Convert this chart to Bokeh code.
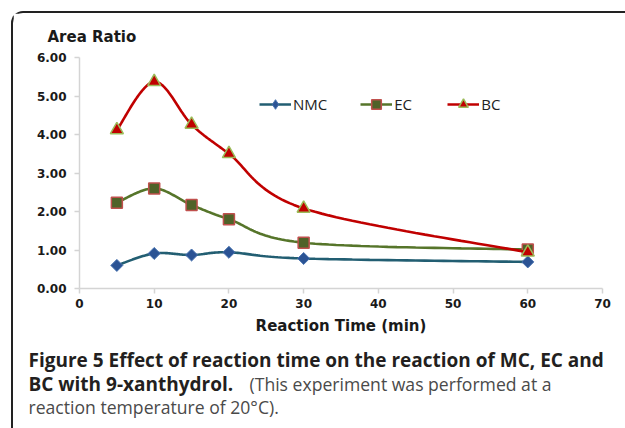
import numpy as np
from bokeh.plotting import figure
from bokeh.layouts import column
from bokeh.models import Range1d, FixedTicker, Label, Legend, LegendItem, Title
from bokeh.embed import file_html
from bokeh.resources import INLINE

# ---------------- data ----------------
time_min = [5, 10, 15, 20, 30, 60]
nmc = [0.60, 0.91, 0.87, 0.94, 0.78, 0.69]
ec = [2.23, 2.60, 2.17, 1.80, 1.19, 1.01]
bc = [4.12, 5.37, 4.26, 3.50, 2.08, 0.94]
series_names = ["NMC", "EC", "BC"]
x_ticks = [0, 10, 20, 30, 40, 50, 60, 70]
x_tick_labels = ["0", "10", "20", "30", "40", "50", "60", "70"]
y_ticks = [0, 1, 2, 3, 4, 5, 6]
y_tick_labels = ["0.00", "1.00", "2.00", "3.00", "4.00", "5.00", "6.00"]
y_title = "Area Ratio"
x_title = "Reaction Time (min)"
caption_bold_1 = "Figure 5 Effect of reaction time on the reaction of MC, EC and"
caption_bold_2 = "BC with 9-xanthydrol."
caption_norm_2 = "(This experiment was performed at a"
caption_norm_3 = "reaction temperature of 20\u00b0C)."

# ---------------- layout (page pixels) ----------------
PW, PH = 625, 428
OX, OY = 13, 13                     # content origin inside the rounded border
FL, FR, FT, FB = 79, 602, 57, 288   # chart frame edges in page pixels
CH = 340                            # page y where the caption block starts
X0, X1, Y0, Y1 = 0, 70, 0, 6


def smooth(xs, ys, n=30):
    P = np.column_stack([xs, ys]).astype(float)
    E = np.vstack([P[0], P, P[-1]])
    out = []
    t = np.linspace(0, 1, n)[:, None]
    for i in range(len(P) - 1):
        p0, p1, p2, p3 = E[i], E[i + 1], E[i + 2], E[i + 3]
        c1 = p1 + (p2 - p0) / 6.0
        c2 = p2 - (p3 - p1) / 6.0
        seg = (1 - t) ** 3 * p1 + 3 * (1 - t) ** 2 * t * c1 + 3 * (1 - t) * t ** 2 * c2 + t ** 3 * p2
        out.append(seg if i == 0 else seg[1:])
    pts = np.vstack(out)
    return pts[:, 0], pts[:, 1]


W1 = PW - OX
H1 = CH - OY
p = figure(width=W1, height=H1, x_range=Range1d(X0, X1), y_range=Range1d(Y0, Y1),
           output_backend="svg", toolbar_location=None,
           min_border_left=FL - OX, min_border_right=PW - FR,
           min_border_top=FT - OY, min_border_bottom=CH - FB)
p.outline_line_color = None
p.grid.visible = False
p.background_fill_color = "white"
p.border_fill_color = "white"

axis_col = "#d4d4d4"
for ax in (p.xaxis[0], p.yaxis[0]):
    ax.axis_line_color = axis_col
    ax.axis_line_width = 1.5
    ax.major_tick_line_color = axis_col
    ax.major_tick_line_width = 1.5
    ax.major_tick_in = 0
    ax.major_tick_out = 5
    ax.minor_tick_line_color = None
    ax.major_label_text_font = "DejaVu Sans"
    ax.major_label_text_font_style = "bold"
    ax.major_label_text_font_size = "12px"
    ax.major_label_text_color = "#1a1a1a"

p.xaxis.ticker = FixedTicker(ticks=x_ticks)
p.xaxis.major_label_overrides = {t: l for t, l in zip(x_ticks, x_tick_labels)}
p.yaxis.ticker = FixedTicker(ticks=y_ticks)
p.yaxis.major_label_overrides = {t: l for t, l in zip(y_ticks, y_tick_labels)}
p.yaxis.major_label_standoff = 8
p.xaxis.major_label_standoff = 5
p.xaxis.axis_label = x_title
p.xaxis.axis_label_text_font = "DejaVu Sans"
p.xaxis.axis_label_text_font_style = "bold"
p.xaxis.axis_label_text_font_size = "15px"
p.xaxis.axis_label_text_color = "#1a1a1a"
p.xaxis.axis_label_standoff = 6

p.title = Title(text=y_title, align="left", offset=47 - FL, standoff=23,
                text_font="DejaVu Sans", text_font_style="bold",
                text_font_size="15px", text_color="#1a1a1a")

styles = [
    dict(line="#225e72", fill="#2b5394", mline="#4a74b0", mw=1.0),
    dict(line="#56752a", fill="#4f6228", mline="#c0504d", mw=1.5),
    dict(line="#c00000", fill="#c00000", mline="#9bbb59", mw=1.5),
]

items = []
# NMC: diamond key marker drawn beneath rotated squares (same points)
sx, sy = smooth(time_min, nmc)
st = styles[0]
rl = p.line(sx, sy, line_color=st["line"], line_width=2.6)
rk = p.scatter(time_min, nmc, marker="diamond", size=10, fill_color=st["fill"],
               line_color=st["mline"], line_width=st["mw"])
p.scatter(time_min, nmc, marker="square", angle=np.pi / 4, size=8.5, fill_color=st["fill"],
          line_color=st["mline"], line_width=st["mw"])
items.append(LegendItem(label=series_names[0], renderers=[rl, rk]))

for name, ys, st, mk, sz in zip(series_names[1:], [ec, bc], styles[1:],
                                ["square", "triangle"], [11, 13]):
    sx, sy = smooth(time_min, ys)
    rl = p.line(sx, sy, line_color=st["line"], line_width=2.6)
    rs = p.scatter(time_min, ys, marker=mk, size=sz, fill_color=st["fill"],
                   line_color=st["mline"], line_width=st["mw"])
    items.append(LegendItem(label=name, renderers=[rl, rs]))

GH = 24
legend = Legend(items=items, orientation="horizontal",
                location=(259 - FL, FB - (104 + GH / 2)),
                padding=0, margin=0, spacing=33, glyph_width=32, glyph_height=GH,
                label_height=GH, label_standoff=2, border_line_color=None,
                background_fill_alpha=0, label_text_font="Open Sans",
                label_text_font_size="15px", label_text_color="#222222")
p.add_layout(legend, "center")

# ---------------- caption block ----------------
W2 = PW - OX
H2 = PH - CH
pc = figure(width=W2, height=H2, x_range=Range1d(0, W2), y_range=Range1d(H2, 0),
            x_axis_type=None, y_axis_type=None, output_backend="svg",
            toolbar_location=None, min_border=0, title=None)
pc.outline_line_color = None
pc.grid.visible = False
pc.border_fill_color = "white"
for fig in (p, pc):
    try:
        fig.frame_align = False
    except Exception:
        pass

cap_font = "Open Sans"
bold_size = "19px"
norm_size = "17.6px"
DY = -7   # measured correction for the caption block's vertical placement
cap_lines = [
    (28, 366, caption_bold_1, "bold", bold_size, "#231f20"),
    (28, 390, caption_bold_2, "bold", bold_size, "#231f20"),
    (249, 390, caption_norm_2, "normal", norm_size, "#4a4a4a"),
    (28, 413, caption_norm_3, "normal", norm_size, "#4a4a4a"),
]
for cx, cy, txt, fs, fsz, colr in cap_lines:
    pc.add_layout(Label(x=cx - OX, y=cy - CH + DY, text=txt, text_font=cap_font,
                        text_font_style=fs, text_font_size=fsz, text_color=colr,
                        text_baseline="alphabetic"))

root = column(p, pc, spacing=0, margin=(OY - 2, 0, 0, OX - 2),
              styles={"border-left": "2px solid #222222", "border-top": "2px solid #222222",
                      "border-top-left-radius": "12px", "background-color": "white"})

open("out.html", "w").write(file_html(root, INLINE))
